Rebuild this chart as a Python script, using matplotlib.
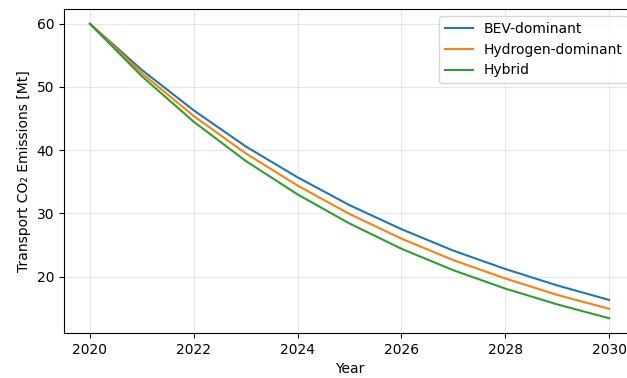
import matplotlib
matplotlib.use("Agg")
import matplotlib.pyplot as plt

# Yearly emissions per scenario [Mt]
years = [2020, 2021, 2022, 2023, 2024, 2025, 2026, 2027, 2028, 2029, 2030]
bev = [60.0, 52.7, 46.3, 40.6, 35.7, 31.3, 27.5, 24.1, 21.2, 18.6, 16.3]
hydrogen = [60.0, 52.2, 45.4, 39.5, 34.4, 29.9, 26.0, 22.6, 19.7, 17.1, 14.9]
hybrid = [60.0, 51.7, 44.5, 38.3, 33.0, 28.4, 24.4, 21.0, 18.1, 15.6, 13.4]

fig = plt.figure(figsize=(6.27, 3.78), dpi=100)
# the reference is cropped slightly on the right, so the axes run past the edge
ax = fig.add_axes([0.102, 0.119, 0.911, 0.857])

ax.plot(years, bev, label="BEV-dominant")
ax.plot(years, hydrogen, label="Hydrogen-dominant")
ax.plot(years, hybrid, label="Hybrid")

ax.set_xlabel("Year")
ax.set_ylabel("Transport CO₂ Emissions [Mt]")
ax.grid(True, alpha=0.3)
ax.legend(loc="upper right")

fig.savefig("out.png", dpi=100)
